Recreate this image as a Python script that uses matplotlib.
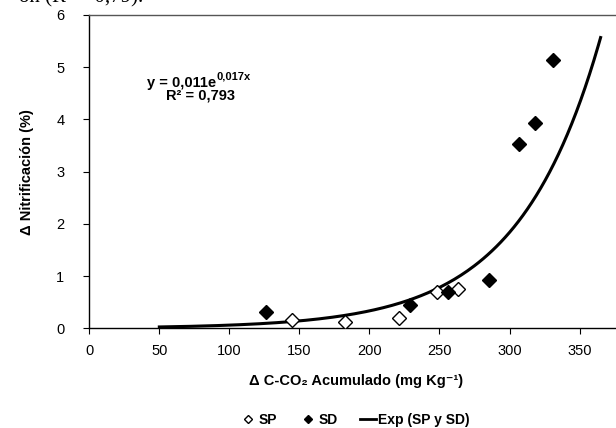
import numpy as np
from matplotlib import pyplot as plt
from matplotlib.lines import Line2D

plt.rcParams['font.family'] = ['Liberation Sans', 'DejaVu Sans']

# Datos
sp_x = [144.6, 182.6, 221.4, 248.1, 263.1]
sp_y = [0.15, 0.13, 0.20, 0.69, 0.75]

sd_x = [126.2, 228.6, 256.4, 285.3, 306.9, 317.9, 330.7]
sd_y = [0.32, 0.45, 0.70, 0.93, 3.52, 3.93, 5.14]

# Tendencia exponencial (coeficientes de la ecuacion del grafico, sin redondear)
coef_a = 0.011
coef_b = 0.01706
curva_x = np.linspace(50, 365, 200)
curva_y = coef_a * np.exp(coef_b * curva_x)

fig = plt.figure(figsize=(6.16, 4.28), dpi=100)
ax = fig.add_axes([89.3 / 616, 1 - 328.3 / 428, 1 - 89.3 / 616 + 0.01, (328.3 - 15) / 428])

ax.plot(curva_x, curva_y, color='black', lw=2.2, zorder=2)
ax.plot(sp_x, sp_y, 'D', ms=7.5, mfc='white', mec='black', mew=1.0, zorder=3)
ax.plot(sd_x, sd_y, 'D', ms=7.5, mfc='black', mec='black', mew=1.0, zorder=3)

ax.set_xlim(0, 376 + 0.01 * 616 / 1.4)
ax.set_ylim(0, 6)
ax.set_xticks([0, 50, 100, 150, 200, 250, 300, 350])
ax.set_yticks([0, 1, 2, 3, 4, 5, 6])
ax.tick_params(labelsize=10.5, length=4, width=0.8, color='black')
ax.tick_params(axis='x', pad=7)
ax.tick_params(axis='y', pad=14)

ax.spines['right'].set_visible(False)
ax.spines['top'].set_color('#555555')
ax.spines['top'].set_linewidth(1.0)
ax.spines['left'].set_linewidth(1.0)
ax.spines['bottom'].set_linewidth(1.0)

ax.set_xlabel('Δ C-CO₂ Acumulado (mg Kg⁻¹)', fontsize=10.5,
              fontweight='bold', labelpad=12)
ax.set_ylabel('Δ Nitrificación (%)', fontsize=10.5, fontweight='bold', labelpad=16)

# Ecuacion
t = fig.text(147 / 616, 1 - 87 / 428, 'y = 0,011e', fontsize=10.5, fontweight='bold',
             va='baseline')
ax.annotate('0,017x', xy=(1, 0.6), xycoords=t, fontsize=8, fontweight='bold',
            va='bottom', ha='left')
fig.text(201 / 616, 1 - 100 / 428, 'R² = 0,793', fontsize=10.5, fontweight='bold',
         ha='center', va='baseline')

# Texto recortado arriba (parte del documento original)
fig.text(143 / 616, 1 - 2 / 428, 'ón (R² = 0,79).', fontsize=15,
         family='Liberation Serif', va='baseline', ha='right')

# Leyenda
handles = [
    Line2D([], [], marker='D', ls='none', ms=4, mfc='white', mec='black', mew=1),
    Line2D([], [], marker='D', ls='none', ms=4, mfc='black', mec='black', mew=1),
    Line2D([], [], color='black', lw=2),
]
fig.legend(handles, ['SP', 'SD', 'Exp (SP y SD)'], loc='center',
           bbox_to_anchor=(355 / 616, 1 - 420 / 428), ncol=3, frameon=False,
           prop={'size': 10, 'weight': 'bold'}, handlelength=1.2, handletextpad=0.15,
           columnspacing=1.6, borderpad=0)

fig.savefig('out.png', dpi=100)
